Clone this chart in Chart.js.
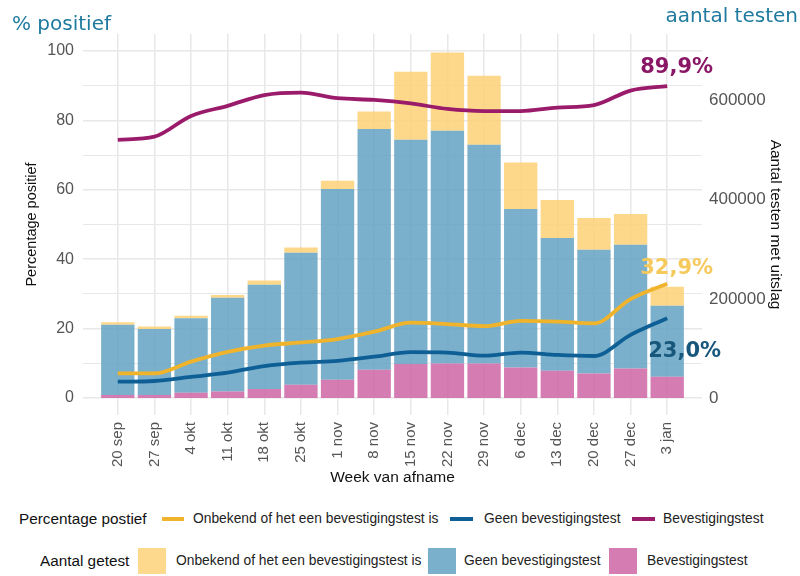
<!DOCTYPE html>
<html><head><meta charset="utf-8">
<script src="https://cdn.jsdelivr.net/npm/chart.js@4/dist/chart.umd.min.js"></script>
<style>
html,body{margin:0;padding:0;background:#fff;}
body{width:800px;height:576px;overflow:hidden;position:relative;font-family:"Liberation Sans",Arial,sans-serif;}
#wrap{position:absolute;left:0;top:0;width:800px;height:495px;}
.t{position:absolute;white-space:nowrap;}
.ttl{font-family:"DejaVu Sans",sans-serif;font-size:20px;line-height:20px;color:#1f7aa0;}
.lg{font-size:13.8px;line-height:20px;height:20px;color:#222;}
.lgt{font-size:15.3px;line-height:20px;height:20px;color:#111;}
.sw{position:absolute;height:4px;}
.bx{position:absolute;width:28px;height:26px;}
</style></head>
<body>
<div id="wrap"><canvas id="c"></canvas></div>
<div class="t ttl" style="left:12px;top:13px;">% positief</div>
<div class="t ttl" style="right:2px;top:5px;">aantal testen</div>

<div class="t lgt" style="left:19px;top:509px;">Percentage postief</div>
<div class="sw" style="left:162px;top:517px;width:22px;background:#efb42c;"></div>
<div class="t lg" style="left:193px;top:509px;">Onbekend of het een bevestigingstest is</div>
<div class="sw" style="left:450px;top:517px;width:23px;background:#0e5f95;"></div>
<div class="t lg" style="left:484px;top:509px;">Geen bevestigingstest</div>
<div class="sw" style="left:632px;top:517px;width:23px;background:#9b1b6b;"></div>
<div class="t lg" style="left:663px;top:509px;">Bevestigingstest</div>

<div class="t lgt" style="left:40px;top:551px;">Aantal getest</div>
<div class="bx" style="left:138px;top:548px;background:#fdd98d;"></div>
<div class="t lg" style="left:176px;top:551px;">Onbekend of het een bevestigingstest is</div>
<div class="bx" style="left:428px;top:548px;background:#7bb0cc;"></div>
<div class="t lg" style="left:464px;top:551px;">Geen bevestigingstest</div>
<div class="bx" style="left:609px;top:548px;background:#d57cb2;"></div>
<div class="t lg" style="left:647px;top:551px;">Bevestigingstest</div>

<script>
const weeks = ['20 sep','27 sep','4 okt','11 okt','18 okt','25 okt','1 nov','8 nov','15 nov','22 nov','29 nov','6 dec','13 dec','20 dec','27 dec','3 jan'];

// Aantal getest (testen met uitslag)
const testsBevestiging = [6000, 6000, 10700, 13300, 18200, 26800, 36900, 57100, 68600, 69800, 69800, 61700, 55100, 49600, 59700, 43000];
const testsGeen        = [142000, 133000, 150000, 189000, 210500, 266300, 384700, 485500, 452400, 469400, 441100, 319500, 267700, 249500, 249500, 143200];
const testsOnbekend    = [4600, 5200, 5400, 5400, 8100, 10700, 16700, 35500, 137200, 157900, 139200, 94000, 76700, 63900, 61900, 38300];

// Percentage positief
const posOnbekend    = [7.1, 7.1, 10.5, 13.3, 15.1, 16.0, 17.0, 19.1, 21.7, 21.3, 20.7, 22.2, 22.0, 21.5, 28.5, 32.9];
const posGeen        = [4.7, 4.9, 6.1, 7.3, 9.2, 10.2, 10.7, 11.9, 13.2, 13.1, 12.2, 13.1, 12.4, 12.1, 18.2, 23.0];
const posBevestiging = [74.4, 75.3, 81.3, 84.2, 87.3, 88.0, 86.4, 85.9, 84.9, 83.3, 82.7, 82.7, 83.7, 84.4, 88.6, 89.9];

const leftGridTicks = [0, 10, 20, 30, 40, 50, 60, 70, 80, 90, 100];
const leftLabelTicks = [0, 20, 40, 60, 80, 100];
const rightTicks = [0, 200000, 400000, 600000];

const pts = arr => arr.map((v, i) => ({x: i, y: v}));
const RATIO = 7000; // 100% on left axis == 700000 tests on right axis
const LMIN = -4.9, LMAX = 104.9;

const endLabelPlugin = {
  id: 'endLabels',
  afterDatasetsDraw(chart) {
    const ctx = chart.ctx, xs = chart.scales.x, ys = chart.scales.yL;
    const items = [
      {data: posBevestiging, color: '#8a1766', dx: -27, dy: -13},
      {data: posOnbekend, color: '#f6c95c', dx: -27, dy: -10},
      {data: posGeen, color: '#17577c', dx: -19, dy: 39}
    ];
    ctx.save();
    ctx.font = 'bold 21px "DejaVu Sans", sans-serif';
    ctx.textAlign = 'left';
    ctx.textBaseline = 'alphabetic';
    items.forEach(it => {
      const i = it.data.length - 1, v = it.data[i];
      const px = xs.getPixelForValue(i), py = ys.getPixelForValue(v);
      ctx.fillStyle = it.color;
      ctx.fillText(v.toFixed(1).replace('.', ',') + '%', px + it.dx, py + it.dy);
    });
    ctx.restore();
  }
};

const barCommon = {type: 'bar', xAxisID: 'x', yAxisID: 'yR', order: 2, barPercentage: 0.91, categoryPercentage: 1, borderWidth: 0};
const lineCommon = {type: 'line', xAxisID: 'x', yAxisID: 'yL', order: 0, borderWidth: 3.8, pointRadius: 0, fill: false, cubicInterpolationMode: 'monotone'};

new Chart(document.getElementById('c'), {
  type: 'bar',
  data: {
    datasets: [
      Object.assign({label: 'Bevestigingstest', data: pts(testsBevestiging), backgroundColor: 'rgba(206,101,164,0.85)'}, barCommon),
      Object.assign({label: 'Geen bevestigingstest', data: pts(testsGeen), backgroundColor: 'rgba(100,162,195,0.85)'}, barCommon),
      Object.assign({label: 'Onbekend of het een bevestigingstest is', data: pts(testsOnbekend), backgroundColor: 'rgba(253,209,117,0.85)'}, barCommon),
      Object.assign({label: 'Onbekend of het een bevestigingstest is (%)', data: pts(posOnbekend), borderColor: '#efb42c'}, lineCommon),
      Object.assign({label: 'Geen bevestigingstest (%)', data: pts(posGeen), borderColor: '#0e5f95'}, lineCommon),
      Object.assign({label: 'Bevestigingstest (%)', data: pts(posBevestiging), borderColor: '#9b1b6b'}, lineCommon)
    ]
  },
  options: {
    responsive: true,
    maintainAspectRatio: false,
    animation: false,
    layout: {padding: {top: 34, left: 0, right: 0, bottom: 0}},
    plugins: {legend: {display: false}, tooltip: {enabled: false}},
    scales: {
      x: {
        type: 'linear', position: 'bottom', stacked: true, offset: false,
        min: -0.95, max: 15.95,
        afterBuildTicks: s => { s.ticks = weeks.map((_, i) => ({value: i})); },
        afterFit: s => { s.height = 80; },
        ticks: {
          autoSkip: false, minRotation: 90, maxRotation: 90, padding: 7,
          font: {family: '"Liberation Sans", Arial, sans-serif', size: 15}, color: '#555',
          callback: v => weeks[v]
        },
        grid: {color: '#e8e8e8', lineWidth: 1.5, drawTicks: false, offset: false},
        border: {display: false},
        title: {display: true, text: 'Week van afname', color: '#111',
          font: {family: '"Liberation Sans", Arial, sans-serif', size: 15.5}, padding: {top: 0, bottom: 8}}
      },
      yL: {
        type: 'linear', position: 'left', min: LMIN, max: LMAX,
        afterBuildTicks: s => { s.ticks = leftGridTicks.map(v => ({value: v})); },
        afterFit: s => { s.width = 83; },
        ticks: {
          padding: 9, color: '#555',
          font: {family: '"Liberation Sans", Arial, sans-serif', size: 16},
          callback: v => leftLabelTicks.includes(v) ? String(v) : ''
        },
        grid: {color: '#e8e8e8', lineWidth: c => (c.tick && leftLabelTicks.includes(c.tick.value)) ? 1.6 : 1.1, drawTicks: false},
        border: {display: false},
        title: {display: true, text: 'Percentage positief', color: '#111',
          font: {family: '"Liberation Sans", Arial, sans-serif', size: 14.5}, padding: {top: 23, bottom: 0}}
      },
      yR: {
        type: 'linear', position: 'right', stacked: true, min: LMIN * RATIO, max: LMAX * RATIO,
        afterBuildTicks: s => { s.ticks = rightTicks.map(v => ({value: v})); },
        afterFit: s => { s.width = 98; },
        ticks: {
          padding: 7, color: '#555',
          font: {family: '"Liberation Sans", Arial, sans-serif', size: 17},
          callback: v => String(v)
        },
        grid: {display: false, drawTicks: false},
        border: {display: false},
        title: {display: true, text: 'Aantal testen met uitslag', color: '#111',
          font: {family: '"Liberation Sans", Arial, sans-serif', size: 15.5}, padding: {top: 15.7, bottom: 0}}
      }
    }
  },
  plugins: [endLabelPlugin]
});
</script>
</body></html>
